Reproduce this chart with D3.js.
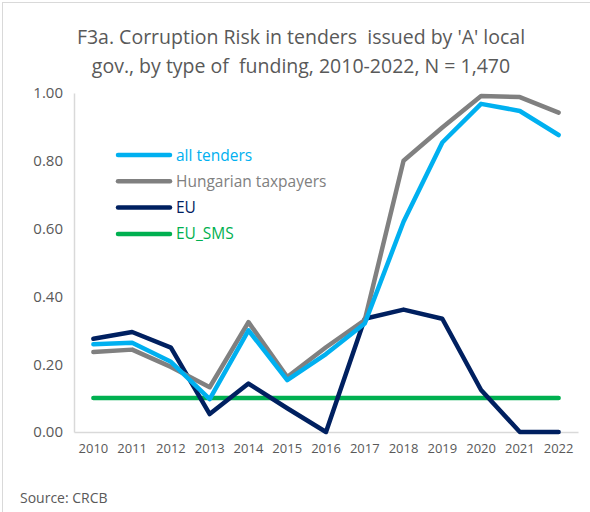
<!DOCTYPE html>
<html>
<head>
<meta charset="utf-8">
<script src="https://cdn.jsdelivr.net/npm/d3@7"></script>
<style>
  body { margin: 0; background: #fff; }
  text { font-family: "Open Sans", "Noto Sans", sans-serif; white-space: pre; }
</style>
</head>
<body>
<div id="chart"></div>
<script>
const years = ["2010", "2011", "2012", "2013", "2014", "2015", "2016", "2017", "2018", "2019", "2020", "2021", "2022"];
const allTenders = [0.259, 0.263, 0.207, 0.097, 0.300, 0.153, 0.230, 0.320, 0.620, 0.854, 0.968, 0.947, 0.876];
const hungarianTaxpayers = [0.236, 0.243, 0.192, 0.132, 0.324, 0.162, 0.250, 0.330, 0.800, 0.898, 0.991, 0.988, 0.942];
const eu = [0.275, 0.295, 0.249, 0.053, 0.143, 0.070, 0.000, 0.334, 0.361, 0.334, 0.124, 0.000, 0.000];
const euSms = [0.10, 0.10, 0.10, 0.10, 0.10, 0.10, 0.10, 0.10, 0.10, 0.10, 0.10, 0.10, 0.10];
const yTicks = [0, 0.2, 0.4, 0.6, 0.8, 1.0];

const series = [
  { name: "all tenders", values: allTenders, color: "#00B0F0" },
  { name: "Hungarian taxpayers", values: hungarianTaxpayers, color: "#808080" },
  { name: "EU", values: eu, color: "#002060" },
  { name: "EU_SMS", values: euSms, color: "#00B050" }
];
// draw order: green first, then navy, grey, blue on top
const drawOrder = [3, 2, 1, 0];

const width = 590, height = 512;
const margin = { top: 93, right: 12, bottom: 80, left: 74 };

const svg = d3.select("#chart")
  .append("svg")
  .attr("width", width)
  .attr("height", height);

svg.append("rect")
  .attr("x", 2.5).attr("y", 2.5)
  .attr("width", width + 10).attr("height", height + 10)
  .attr("fill", "#fff")
  .attr("stroke", "#d9d9d9");

const title = svg.append("text")
  .attr("text-anchor", "middle")
  .attr("fill", "#595959")
  .style("font-size", "19.5px");
title.append("tspan").attr("x", 301).attr("y", 44).text("F3a. Corruption Risk in tenders  issued by 'A' local");
title.append("tspan").attr("x", 301).attr("y", 73).text("gov., by type of  funding, 2010-2022, N = 1,470");

const x = d3.scaleBand()
  .domain(years)
  .range([margin.left, 578]);

const y = d3.scaleLinear()
  .domain([0, 1])
  .range([432, margin.top]);

// axes
const yAxis = svg.append("g")
  .attr("transform", `translate(${margin.left},0)`)
  .call(d3.axisLeft(y).tickValues(yTicks).tickFormat(d3.format(".2f")).tickSize(0).tickPadding(11));
yAxis.select(".domain").attr("stroke", "#d9d9d9").attr("stroke-width", 1.5);
yAxis.selectAll("text").attr("fill", "#595959").style("font-size", "15px");

const xAxis = svg.append("g")
  .attr("transform", `translate(0,432)`)
  .call(d3.axisBottom(x).tickSize(0).tickPadding(12));
xAxis.select(".domain").attr("stroke", "#d9d9d9").attr("stroke-width", 1.5);
xAxis.selectAll("text").attr("fill", "#595959").style("font-size", "13px");

const line = d3.line()
  .x((d, i) => x(years[i]) + x.bandwidth() / 2)
  .y(d => y(d));

drawOrder.forEach(i => {
  const s = series[i];
  svg.append("path")
    .datum(s.values)
    .attr("fill", "none")
    .attr("stroke", s.color)
    .attr("stroke-width", 4.5)
    .attr("stroke-linejoin", "round")
    .attr("stroke-linecap", "round")
    .attr("d", line);
});

// legend
const legend = svg.append("g");
series.forEach((s, i) => {
  const ly = 155 + i * 26.3;
  legend.append("line")
    .attr("x1", 118).attr("x2", 170)
    .attr("y1", ly).attr("y2", ly)
    .attr("stroke", s.color)
    .attr("stroke-width", 4.5)
    .attr("stroke-linecap", "round");
  legend.append("text")
    .attr("x", 176).attr("y", ly + 5.5)
    .attr("fill", s.color)
    .style("font-size", "15.5px")
    .text(s.name);
});

svg.append("text")
  .attr("x", 20).attr("y", 503)
  .attr("fill", "#595959")
  .style("font-size", "14px")
  .text("Source: CRCB");
</script>
</body>
</html>
